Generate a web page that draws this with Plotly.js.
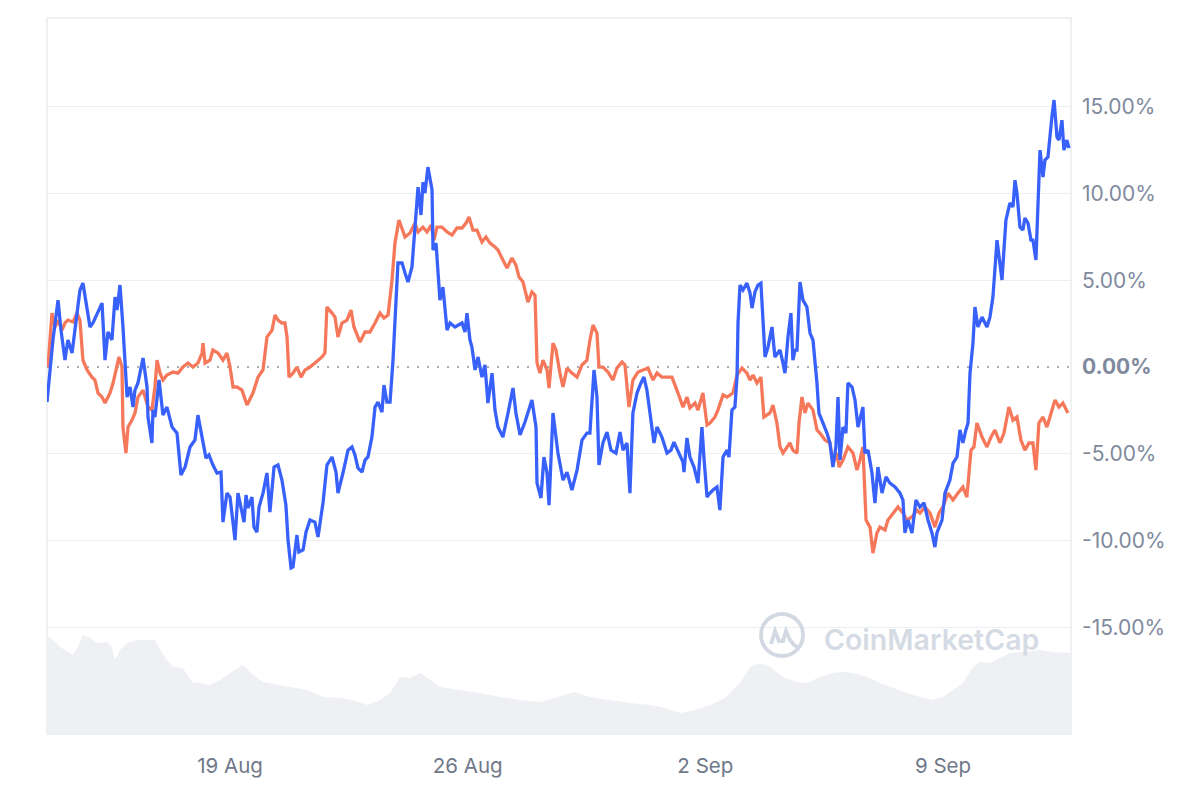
<!DOCTYPE html>
<html><head><meta charset="utf-8">
<script src="https://cdn.plot.ly/plotly-3.0.1.min.js"></script>
<style>html,body{margin:0;padding:0;background:#fff}#chart{width:1200px;height:800px}</style>
</head><body><div id="chart"></div>
<script>
// time offsets are hours since startTime (UTC)
const startTime = '2024-08-13T14:36:00Z';
const rangeHours = [0, 723.9];

const blueHours = [0,2.1,4.2,7.8,9.9,12.7,14.8,17.7,23.3,25.4,28.3,30.4,32.5,38.9,41.0,43.1,45.9,48.1,49.5,51.6,53.7,55.1,56.6,58.7,60.8,62.2,64.3,67.9,70.7,71.4,74.2,74.9,76.3,79.2,82.0,84.8,88.4,91.9,94.7,97.6,101.1,104.6,106.7,109.6,112.4,114.5,117.3,120.2,123.0,124.4,127.2,129.4,132.9,135.0,137.8,139.3,140.7,142.1,144.9,146.3,148.4,149.9,152.7,155.5,157.6,160.5,163.3,166.1,168.9,170.4,172.5,173.9,176.7,178.1,181.0,183.1,185.9,189.4,191.6,195.1,197.9,201.5,204.3,205.7,209.2,212.8,215.6,217.7,219.8,222.7,224.8,226.9,229.7,231.9,234.0,236.8,238.2,240.3,242.5,244.6,248.1,251.0,253.1,255.2,258.0,260.8,262.3,264.4,265.8,267.2,269.3,272.2,272.9,275.0,275.7,277.8,279.9,282.8,284.9,288.4,293.4,295.5,296.9,299.0,300.4,302.6,304.7,307.5,309.6,311.7,314.6,316.7,318.8,322.3,325.9,329.4,331.5,334.4,337.9,342.8,345.7,346.4,349.2,351.3,353.5,354.9,357.7,361.2,364.8,367.6,371.1,374.7,378.2,381.7,383.8,386.7,388.8,390.2,393.0,395.9,398.7,402.2,405.1,407.2,410.0,412.1,414.2,417.1,419.9,422.0,424.1,426.3,429.1,431.2,434.7,438.3,441.1,443.2,446.1,449.6,450.3,452.4,454.5,457.4,460.2,463.0,464.4,466.6,468.7,470.8,473.6,475.7,477.9,480.7,482.1,484.2,486.3,487.8,488.5,489.9,492.0,494.8,497.0,498.4,500.5,502.6,504.7,507.6,509.7,512.5,514.6,518.2,520.3,521.7,523.8,525.9,527.3,528.8,530.2,532.3,534.4,537.2,539.4,541.5,544.3,545.7,548.6,551.4,553.5,555.6,557.7,559.2,560.6,562.7,564.8,566.2,569.1,571.2,573.3,576.8,578.2,580.4,583.2,585.3,587.4,590.3,593.1,595.9,599.5,603.0,605.1,606.5,608.6,611.5,614.3,617.1,620.0,622.8,625.6,627.7,629.1,632.7,634.8,638.3,640.5,643.3,645.4,647.5,649.6,651.1,652.5,654.6,656.0,658.1,661.0,664.5,666.6,668.7,671.6,675.1,677.9,680.7,682.9,684.3,685.7,687.8,689.9,691.3,693.5,695.6,697.0,699.1,702.0,704.1,705.5,707.6,710.4,711.9,714.0,715.4,717.5,718.9,721.0,722.5];
const blueValues = [-2.02,0,1.56,3.86,2.13,0.40,1.56,0.81,4.44,4.84,3.29,2.31,2.54,3.69,0.40,2.02,1.56,4.04,3.29,4.73,2.31,0.40,-1.73,-1.15,-2.31,-1.33,-0.92,0.52,-1.15,-2.88,-4.38,-2.48,-2.88,-0.75,-2.77,-2.31,-3.46,-3.81,-6.23,-5.77,-4.61,-4.21,-2.77,-4.04,-5.25,-5.07,-5.65,-6.11,-6.06,-8.94,-7.27,-7.50,-9.98,-7.27,-8.25,-8.94,-7.38,-8.13,-7.50,-9.23,-9.52,-8.07,-7.27,-6.11,-8.36,-5.77,-5.65,-6.52,-7.96,-9.98,-11.59,-11.53,-9.69,-10.67,-10.55,-9.52,-8.82,-8.94,-9.80,-7.84,-5.65,-5.19,-6.06,-7.27,-6.11,-4.79,-4.61,-5.07,-5.82,-6.06,-5.36,-5.19,-4.04,-2.31,-2.02,-2.60,-1.04,-2.02,-2.02,0.40,6.00,6.00,5.42,4.90,5.77,8.48,10.38,8.77,10.67,10.03,11.53,10.21,6.75,7.15,6.17,3.86,4.61,2.13,2.54,2.31,2.54,2.02,3.11,1.56,1.15,-0.17,0.58,-0.58,0.12,-2.08,-0.35,-2.48,-3.46,-4.04,-2.65,-1.21,-2.65,-3.92,-3.17,-1.90,-3.46,-6.69,-7.55,-5.19,-6.11,-7.96,-2.65,-4.96,-6.52,-6.06,-7.09,-5.94,-4.21,-3.81,-3.81,-0.17,-1.73,-5.65,-4.38,-3.75,-4.79,-4.96,-3.75,-4.79,-4.38,-7.27,-2.65,-1.50,-0.92,-0.58,-1.33,-2.65,-4.38,-3.46,-4.04,-4.96,-4.79,-4.33,-4.90,-5.48,-6.06,-4.09,-5.19,-5.77,-6.69,-3.46,-5.19,-7.50,-7.27,-7.09,-6.92,-8.25,-5.19,-4.79,-5.19,-2.48,-2.31,-0.58,2.54,4.73,4.44,4.84,4.27,3.40,4.33,4.73,4.84,0.58,1.15,2.31,0.58,0.98,0.23,-0.35,1.73,3.11,0.40,0.98,0.98,4.90,3.86,3.46,1.96,1.56,-0.92,-2.65,-3.23,-3.81,-4.38,-5.77,-4.61,-1.73,-5.36,-3.46,-3.81,-0.92,-1.15,-1.90,-3.46,-2.31,-4.96,-4.79,-6.11,-7.84,-5.77,-7.27,-6.34,-6.69,-6.92,-7.27,-7.67,-9.57,-8.82,-9.57,-7.67,-8.07,-7.84,-8.82,-9.57,-10.38,-9.57,-8.82,-7.27,-6.52,-5.54,-5.19,-3.63,-4.38,-3.63,-3.23,-0.35,1.38,3.46,2.31,2.88,2.31,2.88,4.04,7.32,5.02,8.48,9.46,9.23,10.78,10.03,8.07,7.90,8.59,8.30,7.32,7.32,6.17,12.51,10.96,11.94,12.11,14.42,15.40,13.26,13.09,14.24,12.51,13.09,12.63];

const orangeHours = [0.7,3.5,5.7,7.8,10.6,12.7,14.8,18.4,21.2,23.3,25.4,28.3,31.8,33.9,36.1,38.9,41.0,44.5,46.7,49.5,50.9,53.0,53.7,55.8,57.3,60.1,62.2,64.3,67.9,71.4,74.2,76.3,77.8,79.9,82.0,84.8,89.1,92.6,96.1,99.7,103.2,106.7,109.6,110.3,111.7,115.2,117.3,120.9,124.4,127.2,129.4,131.5,134.3,137.8,141.4,145.6,149.2,152.7,155.5,159.1,161.2,163.3,166.1,168.2,169.7,171.1,173.9,176.7,179.6,182.4,185.9,189.4,191.6,194.4,196.5,197.9,201.5,203.6,205.7,208.5,212.1,214.9,217.0,221.3,224.8,228.3,231.9,235.4,238.2,241.1,243.9,246.0,248.8,251.7,253.1,256.6,260.1,262.3,265.8,268.6,271.5,273.6,275.7,279.2,282.8,286.3,289.8,293.4,296.2,298.3,301.1,304.0,307.5,310.3,313.2,316.7,318.8,322.3,325.2,328.7,331.5,333.7,336.5,340.0,342.8,345.0,346.4,348.5,350.6,353.5,354.9,357.7,359.8,362.6,364.8,367.6,371.1,374.7,378.2,381.7,383.8,386.0,388.8,390.2,393.0,396.6,400.1,402.9,406.5,408.6,411.4,414.2,417.8,421.3,424.9,428.4,431.2,434.7,438.3,441.8,446.1,449.6,452.4,454.5,458.1,460.2,463.7,466.6,468.7,472.2,474.3,477.9,480.7,482.8,484.9,487.8,491.3,494.8,497.0,499.1,501.9,504.7,506.8,511.1,513.2,516.0,518.2,520.3,523.1,525.2,527.3,530.2,531.6,533.7,535.8,538.0,541.5,544.3,546.4,550.0,553.5,555.6,558.5,559.9,562.7,566.2,569.8,572.6,574.7,576.8,579.0,581.8,583.9,586.7,588.8,592.4,594.5,598.0,601.6,605.1,607.9,611.5,615.0,617.1,620.7,624.2,627.7,630.6,633.4,636.9,640.5,644.0,647.5,650.3,653.2,655.3,657.4,661.0,664.5,667.3,670.1,673.7,676.5,680.0,682.9,685.7,688.5,691.3,694.2,697.0,699.1,701.2,704.1,706.9,709.7,712.6,715.4,718.2,721.7];
const orangeValues = [0,3.11,2.31,2.71,2.13,2.54,2.71,2.60,3.11,2.71,0.40,-0.17,-0.58,-0.75,-1.50,-1.73,-2.08,-1.50,-0.92,0,0.58,0,-3.46,-4.96,-3.46,-3.06,-2.65,-1.73,-1.33,-2.31,-2.48,-1.15,0.40,-0.35,-0.75,-0.46,-0.29,-0.35,0,0.23,0,0.23,0.81,1.38,0.23,0.40,0.98,0.81,0.40,0.81,0,-1.15,-1.15,-1.33,-2.19,-1.50,-0.58,-0.17,1.73,2.13,3.00,2.71,2.54,2.54,1.73,-0.58,-0.35,0,-0.58,-0.17,0,0.23,0.40,0.58,0.81,3.46,3.11,2.88,1.73,2.54,2.71,3.29,2.31,1.44,2.02,2.02,2.54,3.11,2.83,3.00,5.02,7.15,8.48,7.79,7.50,7.73,8.30,7.79,8.07,7.79,8.19,7.32,8.07,8.07,7.79,7.61,8.02,8.02,8.30,8.65,7.90,7.90,7.21,7.50,7.15,6.92,6.75,6.17,5.71,6.29,5.88,5.19,4.90,3.75,4.33,4.15,0.23,-0.35,0.40,-0.17,-1.21,1.38,0.98,-0.35,-1.15,-0.06,-0.35,-0.58,0.12,0.40,1.56,2.42,1.96,0,0,-0.29,-0.75,-0.06,0.29,0.12,-2.31,-0.75,-0.29,-0.17,-0.06,-0.75,-0.35,-0.58,-0.58,-0.58,-1.50,-2.31,-1.73,-2.36,-2.08,-2.48,-1.50,-3.34,-3.23,-2.88,-2.48,-1.61,-1.73,-1.61,-1.50,-0.46,-0.06,-0.35,-0.75,-0.46,-0.92,-0.58,-2.88,-2.65,-2.19,-3.23,-4.61,-4.96,-4.61,-4.38,-4.79,-4.96,-3.23,-1.73,-2.65,-2.08,-2.48,-3.63,-3.81,-4.21,-4.38,-5.54,-4.96,-5.77,-5.36,-4.61,-4.96,-5.94,-5.36,-4.61,-8.82,-9.23,-10.73,-9.57,-9.23,-9.40,-8.82,-8.42,-8.07,-8.42,-8.82,-8.65,-8.25,-8.42,-8.07,-8.42,-9.23,-8.42,-8.07,-7.27,-7.67,-7.27,-6.92,-7.50,-4.79,-4.61,-3.23,-4.04,-4.61,-4.04,-3.63,-4.38,-3.81,-2.31,-3.06,-2.88,-4.21,-4.79,-4.38,-4.38,-5.94,-3.23,-2.88,-3.46,-2.65,-1.90,-2.31,-2.08,-2.65];

// trading volume (arbitrary units, drawn on a hidden overlay axis)
const volumeHours = [0,4.2,9.2,18.4,21.9,25.4,30.4,35.3,42.4,45.9,48.1,51.6,56.6,63.6,76.3,79.9,84.8,89.1,96.1,102.5,108.2,115.2,122.3,129.4,138.6,145.6,152.7,164.7,173.9,183.8,195.1,207.1,216.3,226.2,235.4,242.5,249.5,256.6,263.7,270.7,277.8,291.9,306.1,320.2,334.4,348.5,362.6,373.2,383.8,398.0,412.1,426.3,436.9,447.5,458.1,468.7,479.3,489.9,497.0,504.0,511.1,520.3,530.2,537.2,546.4,555.6,562.7,569.8,579.7,588.8,598.0,607.9,617.1,626.3,633.4,640.5,647.5,654.6,659.5,666.6,673.7,680.7,689.9,702.0,711.2,721.0,723.9];
const volumeValues = [10.0,9.5,8.8,8.0,8.8,10.0,9.7,9.2,9.3,8.8,7.5,8.5,9.2,9.5,9.5,8.5,7.5,6.8,6.7,5.3,5.2,5.0,5.5,6.2,7.0,6.0,5.3,5.0,4.8,4.5,3.8,3.7,3.5,3.0,3.5,4.2,5.8,5.7,6.2,5.5,4.8,4.5,4.2,3.8,3.5,3.3,3.9,4.3,3.8,3.5,3.2,3.0,2.7,2.2,2.5,3.0,3.7,5.2,6.8,7.2,6.8,5.8,5.3,5.2,5.8,6.2,6.3,6.2,5.8,5.2,4.7,4.2,3.8,3.5,3.8,4.5,5.2,6.8,7.3,7.2,7.7,8.2,8.3,8.5,8.3,8.2,8.2];

const xTickDates = ['2024-08-19','2024-08-26','2024-09-02','2024-09-09'];
const xTickLabels = ['19 Aug','26 Aug','2 Sep','9 Sep'];
const yTickValues = [-15,-10,-5,0,5,10,15];
const yTickLabels = ['-15.00%','-10.00%','-5.00%','<b>0.00%</b>','5.00%','10.00%','15.00%'];
const yGridValues = [-15,-10,-5,5,10,15];
const yRange = [-21.22, 20.13];
const volumeRange = [0, 71.7];

const t0 = Date.parse(startTime);
const toDate = h => new Date(t0 + h * 3600000).toISOString().slice(0, 19).replace('T', ' ');

const FONT = 'Inter, "Noto Sans", "DejaVu Sans", sans-serif';

const traces = [
  {x: volumeHours.map(toDate), y: volumeValues, type: 'scatter', mode: 'lines',
   fill: 'tozeroy', fillcolor: '#eef0f4', line: {width: 0, color: '#eef0f4'},
   yaxis: 'y2', hoverinfo: 'skip', showlegend: false},
  {x: orangeHours.map(toDate), y: orangeValues, type: 'scatter', mode: 'lines',
   line: {color: '#f6785b', width: 3.3}, showlegend: false, name: 'B'},
  {x: blueHours.map(toDate), y: blueValues, type: 'scatter', mode: 'lines',
   line: {color: '#3861fb', width: 3.3}, showlegend: false, name: 'A'}
];

const layout = {
  width: 1200, height: 800,
  margin: {l: 47, r: 129, t: 18, b: 65, pad: 0},
  paper_bgcolor: '#ffffff', plot_bgcolor: '#ffffff',
  font: {family: FONT, color: '#808a9d', size: 20},
  showlegend: false,
  hovermode: false,
  xaxis: {
    type: 'date', range: [toDate(rangeHours[0]), toDate(rangeHours[1])],
    tickmode: 'array', tickvals: xTickDates, ticktext: xTickLabels,
    showgrid: false, zeroline: false, showline: false, ticks: '',
    tickfont: {family: FONT, size: 20.5, color: '#6f7889'},
    ticklabelstandoff: 16, fixedrange: true
  },
  yaxis: {
    side: 'right', range: yRange,
    tickmode: 'array', tickvals: yTickValues, ticktext: yTickLabels,
    showgrid: false, zeroline: false, showline: false, ticks: '',
    tickfont: {family: FONT, size: 21, color: '#808a9d'},
    ticklabelstandoff: 10,
    minor: {tickmode: 'array', tickvals: yGridValues, showgrid: true,
            gridcolor: '#eceef1', gridwidth: 1, ticks: ''},
    fixedrange: true
  },
  yaxis2: {
    overlaying: 'y', range: volumeRange, visible: false,
    showgrid: false, zeroline: false, fixedrange: true
  },
  shapes: [
    {type: 'path', xref: 'paper', yref: 'paper', path: 'M 0 0 L 0 1 L 1 1 L 1 0',
     line: {color: '#e9ebee', width: 1.5}, layer: 'below'},
    {type: 'line', xref: 'paper', yref: 'y', x0: 0, x1: 1, y0: 0, y1: 0,
     line: {color: '#8c919a', width: 1.5, dash: '2px,8px'}, layer: 'below'},
    {type: 'circle', xref: 'paper', yref: 'paper', xsizemode: 'pixel', ysizemode: 'pixel',
     xanchor: 0.7178, yanchor: 0.1395, x0: -21, x1: 21, y0: -21, y1: 21,
     line: {color: '#d3d9e2', width: 3.8}},
    {type: 'path', xref: 'paper', yref: 'paper', xsizemode: 'pixel', ysizemode: 'pixel',
     xanchor: 0.7178, yanchor: 0.1395,
     path: 'M -11 -9 L -7 4 L -3 -6 L 1 -6 L 4 4 L 8 -5 L 12 -10 L 17 -13',
     line: {color: '#d3d9e2', width: 3.8}}
  ],
  annotations: [
    {xref: 'paper', yref: 'paper', x: 0.7568, y: 0.1325, xanchor: 'left', yanchor: 'middle',
     text: 'CoinMarketCap', showarrow: false,
     font: {family: FONT, size: 28.5, color: '#d5dbe4', weight: 600}}
  ]
};

Plotly.newPlot('chart', traces, layout, {displayModeBar: false, staticPlot: true});
</script>
</body></html>
